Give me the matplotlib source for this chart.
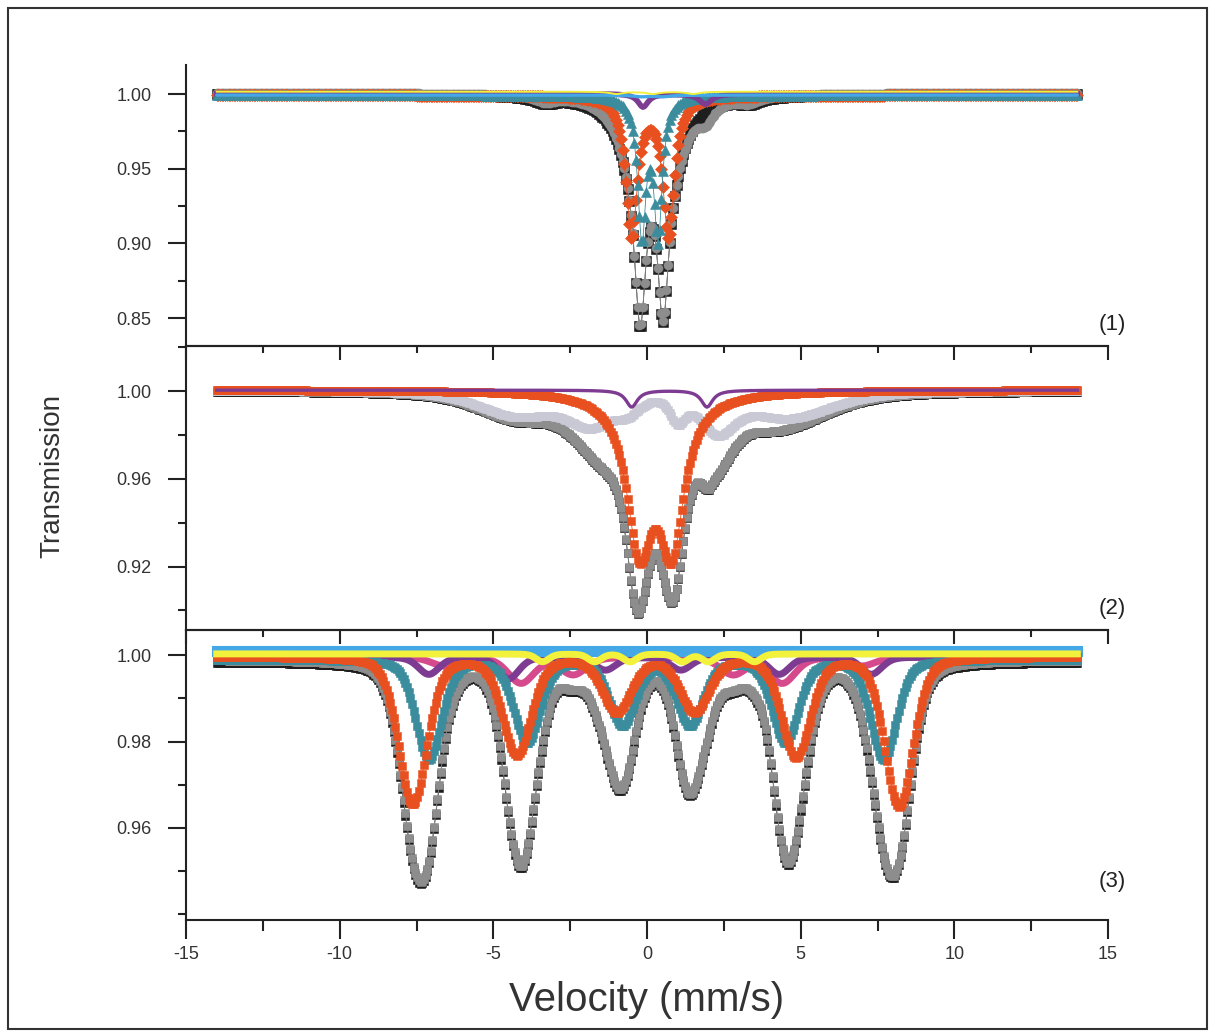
import numpy as np
import matplotlib.pyplot as plt
import matplotlib.patches as patches
from matplotlib.ticker import MultipleLocator, FixedLocator

plt.rcParams['font.family'] = ['Liberation Sans', 'DejaVu Sans']
plt.rcParams['axes.unicode_minus'] = False

# velocity channels (mm/s)
V_START, V_END, N_CHAN = -14.0, 14.0, 512

# every component: line positions (mm/s), depths, widths (FWHM mm/s), baseline

# ---- panel (1) : doublet ----
p1_data_pos = [-0.22, 0.52, -0.45, 0.80, -3.3, 3.3]
p1_data_depth = [0.112, 0.109, 0.032, 0.032, 0.004, 0.004]
p1_data_width = [0.45, 0.45, 1.15, 1.15, 0.8, 0.8]
p1_fit_extra_pos = [1.9]
p1_fit_extra_depth = [0.010]
p1_fit_extra_width = [0.6]
p1_red_pos = [-0.50, 0.70]
p1_red_depth = [0.093, 0.093]
p1_red_width = [0.45, 0.45]
p1_teal_pos = [-0.17, 0.36]
p1_teal_depth = [0.092, 0.092]
p1_teal_width = [0.32, 0.32]
p1_purple_pos = [-0.13, 1.9]
p1_purple_depth = [0.009, 0.007]
p1_purple_width = [0.4, 0.5]
p1_blue_pos = [-0.2, 0.5]
p1_blue_depth = [0.001, 0.001]
p1_blue_width = [0.6, 0.6]
p1_yellow_pos = [-1.0, 0.2, 1.5]
p1_yellow_depth = [0.0015, 0.0015, 0.0015]
p1_yellow_width = [0.5, 0.5, 0.5]

# ---- panel (2) : doublet + field distribution ----
p2_orange_pos = [-0.25, 0.80]
p2_orange_depth = [0.0667, 0.0667]
p2_orange_width = [1.0, 1.0]
p2_lgray_pos = [-1.8, -0.6, 1.0, 2.3, -4.2, 4.6]
p2_lgray_depth = [0.014, 0.006, 0.011, 0.016, 0.011, 0.012]
p2_lgray_width = [1.8, 0.9, 0.6, 1.3, 3.0, 3.4]
p2_purple_pos = [-0.5, 1.95]
p2_purple_depth = [0.0077, 0.0077]
p2_purple_width = [0.45, 0.45]
p2_extra_pos = [-0.3, 0.6, -1.4, 2.1, 4.0]
p2_extra_depth = [0.008, 0.004, 0.006, 0.006, 0.003]
p2_extra_width = [0.5, 0.5, 1.2, 1.6, 2.0]

# ---- panel (3) : sextets ----
p3_red_pos = [-7.62, -4.23, -0.98, 1.55, 4.85, 8.20]
p3_red_depth = [0.034, 0.0225, 0.0125, 0.0125, 0.023, 0.0345]
p3_red_width = [1.1] * 6
p3_teal_pos = [-7.10, -3.90, -0.80, 1.40, 4.50, 7.70]
p3_teal_depth = [0.023, 0.019, 0.015, 0.015, 0.019, 0.023]
p3_teal_width = [1.0] * 6
p3_purple_pos = [-7.1, -4.5, -1.35, 1.1, 4.3, 7.3]
p3_purple_depth = [0.004, 0.005, 0.003, 0.003, 0.004, 0.004]
p3_purple_width = [0.8] * 6
p3_pink_pos = [-6.6, -4.1, -2.4, 2.8, 4.4, 7.0]
p3_pink_depth = [0.002, 0.006, 0.004, 0.004, 0.006, 0.002]
p3_pink_width = [1.0] * 6
p3_yellow_pos = [-3.4, -1.7, -0.55, 1.15, 2.0, 3.5]
p3_yellow_depth = [0.0018] * 6
p3_yellow_width = [0.5] * 6
p3_blue_level = 1.0010

panel_labels = ['(1)', '(2)', '(3)']

RED = '#e8511f'
TEAL = '#3b8c9c'
PURPLE = '#7d3c92'
PINK = '#d44a8c'
YELLOW = '#f2f23c'
BLUE = '#44a8e6'
GRAY = '#8d8d8d'
LGRAY = '#c9c9d6'
BLACK = '#1e1e1e'


def absorption(v, pos, depth, width, eta=1.0):
    out = np.zeros_like(v)
    for c, d, w in zip(pos, depth, width):
        x = (v - c) / w
        lor = 1.0 / (1.0 + 4.0 * x ** 2)
        gau = np.exp(-4.0 * np.log(2) * x ** 2)
        out += d * (eta * lor + (1 - eta) * gau)
    return out


def pts(ax, v, y, color, marker, ms, z, lw=0.6):
    ax.plot(v, y, color=color, marker=marker, ms=ms, mec=color, mew=0.4,
            lw=lw, zorder=z)


v = np.linspace(V_START, V_END, N_CHAN)

fig = plt.figure(figsize=(12.15, 10.33), dpi=100)
ax1 = fig.add_axes([0.1531, 0.665, 0.7589, 0.272])
ax2 = fig.add_axes([0.1531, 0.390, 0.7589, 0.275])
ax3 = fig.add_axes([0.1531, 0.1094, 0.7589, 0.2806])

# panel 1
d1 = absorption(v, p1_data_pos, p1_data_depth, p1_data_width)
g1 = d1 + absorption(v, p1_fit_extra_pos, p1_fit_extra_depth, p1_fit_extra_width)
pts(ax1, v, 1.0 - d1, BLACK, 's', 6.5, 2)
pts(ax1, v, 1.001 - g1, GRAY, 'o', 6.5, 3)
pts(ax1, v, 0.9992 - absorption(v, p1_red_pos, p1_red_depth, p1_red_width), RED, 'D', 6.5, 4)
pts(ax1, v, 0.9992 - absorption(v, p1_teal_pos, p1_teal_depth, p1_teal_width), TEAL, '^', 6.5, 5)
ax1.plot(v, 1.0003 - absorption(v, p1_purple_pos, p1_purple_depth, p1_purple_width),
         color=PURPLE, lw=4, zorder=6)
ax1.plot(v, 0.9993 - absorption(v, p1_blue_pos, p1_blue_depth, p1_blue_width),
         color=BLUE, lw=2.4, solid_capstyle='round', zorder=7)
ax1.plot(v, 1.0016 - absorption(v, p1_yellow_pos, p1_yellow_depth, p1_yellow_width),
         color=YELLOW, lw=1.4, zorder=8)
ax1.set_ylim(0.8313, 1.0194)
ax1.yaxis.set_major_locator(FixedLocator([0.85, 0.90, 0.95, 1.00]))
ax1.yaxis.set_minor_locator(MultipleLocator(0.025))

# panel 2
orange2 = absorption(v, p2_orange_pos, p2_orange_depth, p2_orange_width)
lgray2 = absorption(v, p2_lgray_pos, p2_lgray_depth, p2_lgray_width, 0.5)
purple2 = absorption(v, p2_purple_pos, p2_purple_depth, p2_purple_width)
data2 = orange2 + lgray2 + purple2 + absorption(v, p2_extra_pos, p2_extra_depth, p2_extra_width)
pts(ax2, v, 1.0001 - data2, BLACK, 's', 5.5, 2)
pts(ax2, v, 1.0005 - data2, GRAY, 's', 5.5, 3)
pts(ax2, v, 1.0003 - lgray2, LGRAY, 's', 5.5, 4)
pts(ax2, v, 1.0005 - orange2, RED, 's', 5.8, 5)
ax2.plot(v, 1.0004 - purple2, color=PURPLE, lw=2.4, zorder=6)
ax2.set_ylim(0.891, 1.0205)
ax2.yaxis.set_major_locator(FixedLocator([0.92, 0.96, 1.00]))
ax2.yaxis.set_minor_locator(MultipleLocator(0.02))

# panel 3
eta3 = 0.3
red3 = absorption(v, p3_red_pos, p3_red_depth, p3_red_width, eta3)
teal3 = absorption(v, p3_teal_pos, p3_teal_depth, p3_teal_width, eta3)
purple3 = absorption(v, p3_purple_pos, p3_purple_depth, p3_purple_width, eta3)
pink3 = absorption(v, p3_pink_pos, p3_pink_depth, p3_pink_width, eta3)
yellow3 = absorption(v, p3_yellow_pos, p3_yellow_depth, p3_yellow_width, eta3)
data3 = red3 + teal3 + purple3 + pink3 + yellow3
pts(ax3, v, 0.9985 - data3, BLACK, 's', 6, 2)
pts(ax3, v, 0.9990 - data3, GRAY, 's', 6, 3)
ax3.plot(v, 0.9996 - pink3, color=PINK, lw=5, zorder=4)
ax3.plot(v, 0.9996 - purple3, color=PURPLE, lw=5, zorder=4)
pts(ax3, v, 0.9990 - teal3, TEAL, 's', 6, 5)
ax3.plot(v, np.full_like(v, p3_blue_level), color=BLUE, lw=8,
         solid_capstyle='projecting', zorder=6)
pts(ax3, v, 0.9997 - red3, RED, 's', 6, 7)
ax3.plot(v, 1.0003 - yellow3, color=YELLOW, lw=5, zorder=8)
ax3.set_ylim(0.9387, 1.0058)
ax3.yaxis.set_major_locator(FixedLocator([0.96, 0.98, 1.00]))
ax3.yaxis.set_minor_locator(MultipleLocator(0.01))

for i, ax in enumerate([ax1, ax2, ax3]):
    ax.set_facecolor('none')
    ax.set_xlim(-15, 15)
    ax.spines['right'].set_visible(False)
    ax.spines['top'].set_visible(i > 0)
    for s in ax.spines.values():
        s.set_linewidth(1.5)
        s.set_color('#222222')
    ax.xaxis.set_major_locator(MultipleLocator(5))
    ax.xaxis.set_minor_locator(MultipleLocator(2.5))
    ax.yaxis.set_major_formatter(plt.FormatStrFormatter('%.2f'))
    ax.tick_params(axis='y', which='major', direction='out', length=13, width=1.5,
                   labelsize=13, pad=12, colors='#222222', labelcolor='#333333')
    ax.tick_params(axis='y', which='minor', direction='out', length=6, width=1.5,
                   colors='#222222')
    if i < 2:
        ax.tick_params(axis='x', which='major', direction='out', length=10, width=1.5,
                       labelbottom=False, colors='#222222')
        ax.tick_params(axis='x', which='minor', direction='out', length=5, width=1.5,
                       colors='#222222')
    else:
        ax.tick_params(axis='x', which='major', direction='out', length=14, width=1.5,
                       labelsize=13, pad=5, colors='#222222', labelcolor='#333333')
        ax.tick_params(axis='x', which='minor', direction='out', length=8, width=1.5,
                       colors='#222222')
ax3.xaxis.set_major_formatter(plt.FormatStrFormatter('%d'))

label_y = [0.6854, 0.4114, 0.1462]
for lab, yy in zip(panel_labels, label_y):
    fig.text(0.9267, yy, lab, ha='right', va='center', fontsize=16, color='#222222')

fig.text(0.0428, 0.539, 'Transmission', rotation=90, ha='center', va='center',
         fontsize=20, color='#333333')
fig.text(0.5325, 0.032, 'Velocity (mm/s)', ha='center', va='center',
         fontsize=29, color='#333333')

fig.patches.append(patches.Rectangle((0.0066, 0.004), 0.9868, 0.988,
                                     transform=fig.transFigure, fill=False,
                                     lw=1.5, ec='#333333'))

fig.savefig('out.png', dpi=100)
